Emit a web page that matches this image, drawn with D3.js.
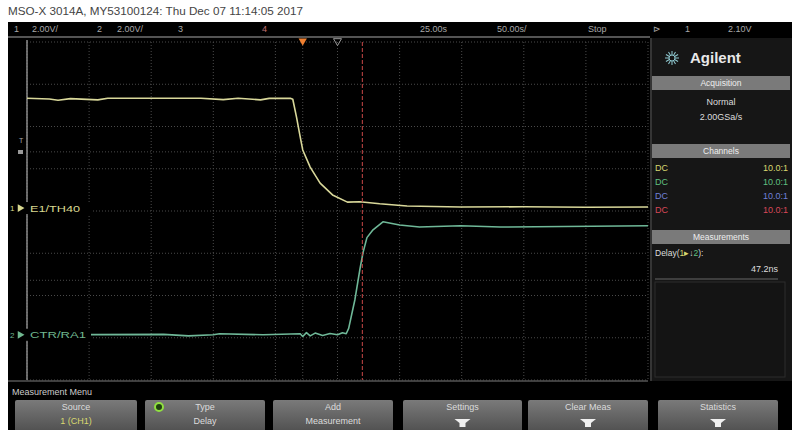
<!DOCTYPE html>
<html lang="en">
<head>
    <meta charset="UTF-8">
    <title>MSO-X 3014A Delay Measurement</title>
    <script src="https://d3js.org/d3.v7.min.js"></script>
    <style>
        body {
            margin: 0;
            background-color: #fff;
            font-family: "Liberation Sans", Arial, sans-serif;
        }
        .grid {
            stroke: #4a4a4a;
            stroke-width: 1px;
            stroke-dasharray: 1 2;
        }
        .trace {
            fill: none;
            stroke-width: 1.6px;
            stroke-linejoin: round;
        }
        .hdr { fill: #a8a8a8; font-size: 9px; }
        .btn-text { fill: #dcdcdc; font-size: 9px; text-anchor: middle; }
    </style>
</head>
<body>
    <svg id="scope" width="792" height="430"></svg>
    <script>
        // time in ns, voltage in V (2 V/div, 50 ns/div)
        const ch1Time = [-250, -232, -225, -215, -193, -185, -110, -92, -80, -62, -55, -38,
                         -36, -33, -30, -28, -22, -14, -4, 8, 18, 34, 56, 99, 150, 200, 250];
        const ch1Volts = [5.2, 5.16, 5.1, 5.18, 5.12, 5.2, 5.2, 5.13, 5.2, 5.12, 5.19, 5.2,
                          5.15, 4.3, 3.36, 2.75, 1.94, 1.18, 0.62, 0.28, 0.3, 0.2, 0.1, 0.05, 0.06, 0.04, 0.05];

        const ch2Time = [-250, -140, -120, -100, -95, -60, -30, -28, -25, -22, -18, -12, -6, 0, 4, 7,
                         9, 14, 18, 20.5, 23.7, 28.6, 36.6, 50, 66, 99, 131, 250];
        const ch2Volts = [0, 0.02, -0.05, 0, 0.05, 0, 0.05, -0.08, 0.1, -0.05, 0.08, -0.03, 0.06, 0, 0.1, 0.05,
                          0.3, 1.66, 3.08, 3.88, 4.6, 4.97, 5.35, 5.2, 5.1, 5.16, 5.1, 5.16];

        const timeTicks = d3.range(-250, 251, 50);
        const divTicks = d3.range(-4, 5, 1);
        const cursorTime = 20;
        const triggerTime = -28;

        const headerItems = [
            { t: "1", x: 14 }, { t: "2.00V/", x: 32 }, { t: "2", x: 97 }, { t: "2.00V/", x: 117 },
            { t: "3", x: 178 }, { t: "4", x: 262, c: "#c07070" }, { t: "25.00s", x: 420 },
            { t: "50.00s/", x: 497 }, { t: "Stop", x: 588 }, { t: "⊳", x: 653 }, { t: "1", x: 685 },
            { t: "2.10V", x: 728 }
        ];
        const channelRows = [
            { cpl: "DC", probe: "10.0:1", color: "#d8d870" },
            { cpl: "DC", probe: "10.0:1", color: "#60c080" },
            { cpl: "DC", probe: "10.0:1", color: "#7080d8" },
            { cpl: "DC", probe: "10.0:1", color: "#d84858" }
        ];
        const buttons = [
            { x0: 15, x1: 137, l1: "Source", l2: "1 (CH1)", c2: "#d8d870" },
            { x0: 145, x1: 265, l1: "Type", l2: "Delay", icon: true },
            { x0: 273, x1: 393, l1: "Add", l2: "Measurement" },
            { x0: 403, x1: 522, l1: "Settings", arrow: true },
            { x0: 528, x1: 648, l1: "Clear Meas", arrow: true },
            { x0: 658, x1: 778, l1: "Statistics", arrow: true }
        ];

        const svg = d3.select("#scope");
        const x = d3.scaleLinear().domain([-250, 250]).range([27, 648]);
        const ydiv = d3.scaleLinear().domain([-4, 4]).range([380, 42]);
        const ch1Off = 0.07, ch2Off = -2.93;

        // title strip
        svg.append("rect").attr("width", 792).attr("height", 430).attr("fill", "#fff");
        svg.append("text").attr("x", 8).attr("y", 15).attr("font-size", 10.5)
            .attr("fill", "#444").attr("textLength", 295).attr("lengthAdjust", "spacingAndGlyphs")
            .text("MSO-X 3014A, MY53100124: Thu Dec 07 11:14:05 2017");

        // black screen
        svg.append("rect").attr("x", 8).attr("y", 22).attr("width", 784).attr("height", 408).attr("fill", "#000");

        // header
        svg.selectAll(".hdr").data(headerItems).enter().append("text")
            .attr("class", "hdr").attr("x", d => d.x).attr("y", 32)
            .style("fill", d => d.c || null).text(d => d.t);
        svg.append("line").attr("x1", 8).attr("x2", 650).attr("y1", 37).attr("y2", 37)
            .attr("stroke", "#707070").attr("stroke-width", 1.5);

        // graticule
        const g = svg.append("g");
        g.selectAll(".vg").data(timeTicks).enter().append("line").attr("class", "grid")
            .attr("x1", d => x(d)).attr("x2", d => x(d)).attr("y1", 42).attr("y2", 380);
        g.selectAll(".hg").data(divTicks).enter().append("line").attr("class", "grid")
            .attr("x1", 27).attr("x2", 648).attr("y1", d => ydiv(d)).attr("y2", d => ydiv(d));
        [ydiv(1.4), ydiv(-1.64)].forEach(yy => {
            g.append("line").attr("class", "grid").attr("x1", 27).attr("x2", 648)
                .attr("y1", yy).attr("y2", yy).attr("stroke", "#333");
        });
        g.append("line").attr("class", "grid").attr("x1", x(triggerTime)).attr("x2", x(triggerTime))
            .attr("y1", 42).attr("y2", 380).attr("stroke", "#3a3a3a");
        g.append("line").attr("x1", 27).attr("x2", 27).attr("y1", 40).attr("y2", 380)
            .attr("stroke", "#8a8a8a").attr("stroke-width", 1.5);
        g.append("line").attr("x1", 8).attr("x2", 648).attr("y1", 381).attr("y2", 381)
            .attr("stroke", "#555").attr("stroke-width", 1.5);

        // markers top
        svg.append("path").attr("d", d3.symbol(d3.symbolTriangle, 30)())
            .attr("transform", `translate(${x(triggerTime)},41) rotate(180)`).attr("fill", "#f08030");
        svg.append("path").attr("d", d3.symbol(d3.symbolTriangle, 28)())
            .attr("transform", `translate(${x(0)},41) rotate(180)`)
            .attr("fill", "none").attr("stroke", "#999");

        // left side small marks
        svg.append("text").attr("x", 19).attr("y", 143).attr("font-size", 7).attr("fill", "#aaa").text("T");
        svg.append("rect").attr("x", 18).attr("y", 150).attr("width", 5).attr("height", 4).attr("fill", "#999");

        // traces
        const line1 = d3.line().x(d => x(d[0])).y(d => ydiv(d[1] / 2 + ch1Off));
        const line2 = d3.line().x(d => x(d[0])).y(d => ydiv(d[1] / 2 + ch2Off));
        svg.append("path").attr("class", "trace").attr("stroke", "#6fb898")
            .attr("d", line2(d3.zip(ch2Time, ch2Volts)));
        svg.append("path").attr("class", "trace").attr("stroke", "#d9d89a")
            .attr("d", line1(d3.zip(ch1Time, ch1Volts)));

        // cursor
        svg.append("line").attr("x1", x(cursorTime)).attr("x2", x(cursorTime)).attr("y1", 42).attr("y2", 380)
            .attr("stroke", "#c84848").attr("stroke-width", 1).attr("stroke-dasharray", "4 2");

        // channel labels
        [{ n: "1", lab: "E1/TH40", off: ch1Off, c: "#d8d890" },
         { n: "2", lab: "CTR/RA1", off: ch2Off, c: "#70b890" }].forEach(d => {
            const yy = ydiv(d.off);
            svg.append("rect").attr("x", 9).attr("y", yy - 6).attr("width", 82).attr("height", 12).attr("fill", "#000");
            svg.append("path").attr("d", d3.symbol(d3.symbolTriangle, 26)())
                .attr("transform", `translate(20,${yy}) rotate(90)`).attr("fill", d.c);
            svg.append("text").attr("x", 10).attr("y", yy + 3).attr("font-size", 8).attr("fill", d.c).text(d.n);
            svg.append("text").attr("x", 30).attr("y", yy + 3.5).attr("font-size", 9.5).attr("fill", d.c)
                .attr("textLength", d.n === "1" ? 50 : 56).attr("lengthAdjust", "spacingAndGlyphs").text(d.lab);
        });

        // right panel
        const p = svg.append("g");
        p.append("rect").attr("x", 650).attr("y", 38).attr("width", 142).attr("height", 343).attr("fill", "#161616");
        p.append("line").attr("x1", 651).attr("x2", 651).attr("y1", 38).attr("y2", 381).attr("stroke", "#555");
        // logo spark
        const spark = p.append("g").attr("transform", "translate(672,58)");
        d3.range(0, 180, 30).forEach(a => {
            spark.append("line").attr("x1", -7).attr("x2", 7).attr("y1", 0).attr("y2", 0)
                .attr("stroke", "#8fc8d0").attr("stroke-width", 1).attr("transform", `rotate(${a})`);
        });
        spark.append("circle").attr("r", 3).attr("fill", "#161616").attr("stroke", "#8fc8d0");
        p.append("text").attr("x", 690).attr("y", 63).attr("font-size", 15).attr("font-weight", "bold")
            .attr("fill", "#e8e8e8").text("Agilent");

        const bar = (yy, label) => {
            p.append("rect").attr("x", 652).attr("y", yy).attr("width", 138).attr("height", 14).attr("fill", "#7a7a7a");
            p.append("text").attr("x", 721).attr("y", yy + 10).attr("font-size", 8.5).attr("fill", "#eee")
                .attr("text-anchor", "middle").text(label);
        };
        bar(76, "Acquisition");
        p.append("text").attr("x", 721).attr("y", 105).attr("font-size", 9).attr("fill", "#ddd")
            .attr("text-anchor", "middle").text("Normal");
        p.append("text").attr("x", 721).attr("y", 120).attr("font-size", 9).attr("fill", "#ddd")
            .attr("text-anchor", "middle").text("2.00GSa/s");
        bar(144, "Channels");
        channelRows.forEach((r, i) => {
            const yy = 171 + i * 14;
            p.append("text").attr("x", 655).attr("y", yy).attr("font-size", 9).attr("fill", r.color).text(r.cpl);
            p.append("text").attr("x", 788).attr("y", yy).attr("font-size", 9).attr("fill", r.color)
                .attr("text-anchor", "end").text(r.probe);
        });
        bar(230, "Measurements");
        const dl = p.append("text").attr("x", 655).attr("y", 256).attr("font-size", 8.5).attr("fill", "#ddd");
        dl.append("tspan").text("Delay(");
        dl.append("tspan").attr("fill", "#d8d870").text("1▸");
        dl.append("tspan").text("↓");
        dl.append("tspan").attr("fill", "#60c080").text("2");
        dl.append("tspan").text("):");
        p.append("text").attr("x", 778).attr("y", 272).attr("font-size", 9).attr("fill", "#ddd")
            .attr("text-anchor", "end").text("47.2ns");
        p.append("line").attr("x1", 655).attr("x2", 778).attr("y1", 279).attr("y2", 279).attr("stroke", "#666");
        p.append("rect").attr("x", 655).attr("y", 282).attr("width", 130).attr("height", 95)
            .attr("fill", "#141414").attr("stroke", "#2c2c2c");

        // bottom menu
        svg.append("text").attr("x", 12).attr("y", 395).attr("font-size", 9).attr("fill", "#ccc").text("Measurement Menu");
        const grad = svg.append("defs").append("linearGradient").attr("id", "btn").attr("x1", 0).attr("x2", 0).attr("y1", 0).attr("y2", 1);
        grad.append("stop").attr("offset", "0%").attr("stop-color", "#7a7a7a");
        grad.append("stop").attr("offset", "100%").attr("stop-color", "#505050");
        buttons.forEach(b => {
            const cx = (b.x0 + b.x1) / 2;
            svg.append("rect").attr("x", b.x0).attr("y", 400).attr("width", b.x1 - b.x0).attr("height", 32)
                .attr("rx", 2).attr("fill", "url(#btn)");
            svg.append("text").attr("class", "btn-text").attr("x", cx).attr("y", 410).text(b.l1);
            if (b.l2) {
                svg.append("text").attr("class", "btn-text").attr("x", cx).attr("y", 424)
                    .style("fill", b.c2 || null).text(b.l2);
            }
            if (b.icon) {
                svg.append("circle").attr("cx", b.x0 + 14).attr("cy", 407).attr("r", 4)
                    .attr("fill", "#204010").attr("stroke", "#90e040").attr("stroke-width", 2);
            }
            if (b.arrow) {
                svg.append("path").attr("d", `M${cx - 8},419 L${cx + 8},419 L${cx + 3},423 L${cx + 3},427 L${cx - 3},427 L${cx - 3},423 Z`)
                    .attr("fill", "#f0f0f0");
            }
        });
    </script>
</body>
</html>
